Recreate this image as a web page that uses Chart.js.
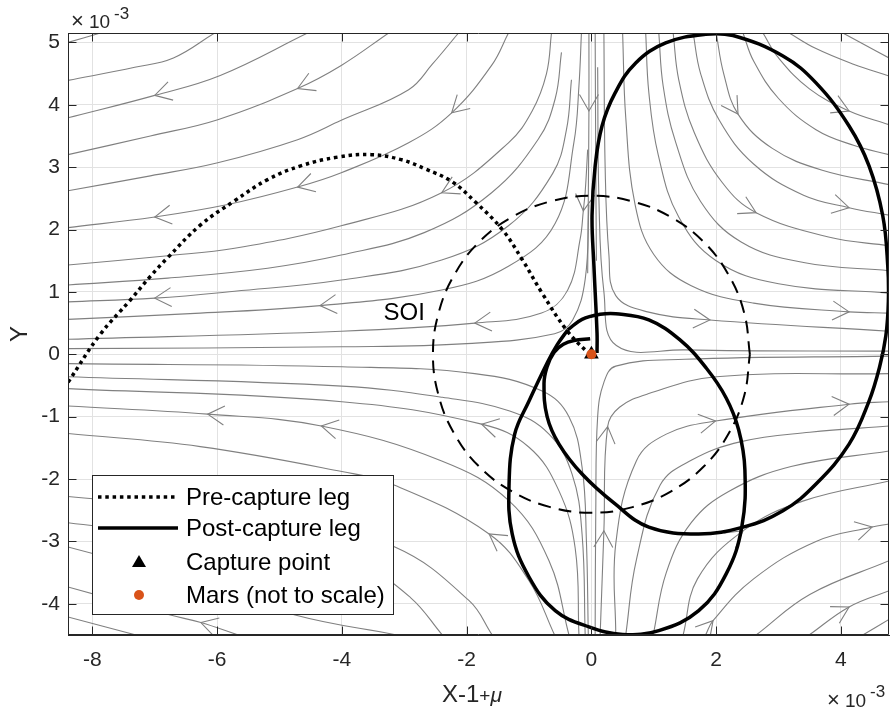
<!DOCTYPE html>
<html><head><meta charset="utf-8">
<script src="https://cdn.jsdelivr.net/npm/chart.js@4.4.0/dist/chart.umd.min.js"></script>
<style>html,body{margin:0;padding:0;background:#fff;}#wrap{width:890px;height:714px;}</style>
</head><body><div id="wrap"><canvas id="c" width="890" height="714"></canvas></div>
<script>
// All coordinates are in units of 1e-3 (axis multiplier shown as ×10^-3)
const xTicks = [-8,-6,-4,-2,0,2,4];
const yTicks = [-4,-3,-2,-1,0,1,2,3,4,5];
const xRange = [-8.39, 4.77];
const yRange = [-4.50, 5.15];

const mars = [[0,0]];
const capturePoint = [[0,0]];

const preCapture = [[-8.39,-0.45],[-7.88,0.31],[-7.39,0.87],[-7.07,1.25],[-6.80,1.54],[-6.27,2.07],[-5.72,2.46],[-5.19,2.80],[-4.66,3.02],[-4.07,3.16],[-3.53,3.20],[-3.05,3.12],[-2.66,2.97],[-2.24,2.77],[-1.86,2.44],[-1.43,2.00],[-1.11,1.52],[-0.79,0.98],[-0.40,0.39],[-0.07,0.04],[0,0]];

const postLoop = [[0.09,0.02],[0.09,0.34],[0.04,1.42],[0.01,2.22],[0.06,3.02],[0.17,3.66],[0.38,4.19],[0.71,4.67],[1.19,4.99],[1.83,5.13],[2.27,5.11],[3.07,4.78],[3.60,4.35],[4.13,3.66],[4.45,3.02],[4.67,2.22],[4.75,1.42],[4.76,0.85],[4.72,0.30],[4.62,-0.20],[4.45,-0.75],[4.13,-1.44],[3.60,-2.08],[3.07,-2.51],[2.43,-2.77],[1.72,-2.88],[0.92,-2.77],[0.38,-2.40],[-0.15,-1.92],[-0.52,-1.44],[-0.71,-1.00],[-0.76,-0.47],[-0.71,-0.20],[-0.60,0.03],[-0.45,0.16],[-0.28,0.22],[-0.02,0.25]];

const postEllipse = [[-0.38,0.39],[-0.15,0.56],[0.14,0.64],[0.39,0.65],[0.92,0.55],[1.42,0.23],[1.84,-0.22],[2.16,-0.70],[2.36,-1.21],[2.46,-1.85],[2.41,-2.77],[2.16,-3.52],[1.72,-4.11],[1.08,-4.43],[0.50,-4.49],[-0.04,-4.37],[-0.58,-4.11],[-1.00,-3.57],[-1.27,-2.88],[-1.32,-2.08],[-1.23,-1.28],[-1.00,-0.75],[-0.70,-0.12],[-0.55,0.15],[-0.38,0.39]];

const soi = [[2.54,0],[2.45,0.66],[2.20,1.27],[1.80,1.80],[1.27,2.20],[0.66,2.45],[0,2.54],[-0.66,2.45],[-1.27,2.20],[-1.80,1.80],[-2.20,1.27],[-2.45,0.66],[-2.54,0],[-2.45,-0.66],[-2.20,-1.27],[-1.80,-1.80],[-1.27,-2.20],[-0.66,-2.45],[0,-2.54],[0.66,-2.45],[1.27,-2.20],[1.80,-1.80],[2.20,-1.27],[2.45,-0.66],[2.54,0]];
const soiLabel = {x:-3.0, y:0.55, text:'SOI'};

// Streamlines, points listed in flow direction
const streamQ2 = [
 [[-7.87,5.15],[-8.39,5.00]],
 [[-6.04,5.15],[-6.70,4.75],[-7.32,4.60],[-8.39,4.39]],
 [[-4.55,5.15],[-5.95,4.47],[-7.00,4.15],[-8.39,3.79]],
 [[-3.25,5.15],[-4.01,4.63],[-4.71,4.26],[-5.99,3.76],[-7.07,3.50],[-8.39,3.20]],
 [[-2.13,5.15],[-2.55,4.65],[-2.93,4.24],[-4.01,3.75],[-4.71,3.44],[-5.99,3.07],[-7.07,2.86],[-8.39,2.62]],
 [[-1.33,5.15],[-1.60,4.63],[-2.24,3.87],[-2.93,3.39],[-4.01,2.91],[-4.71,2.68],[-5.83,2.40],[-7.00,2.20],[-8.39,2.03]],
 [[-0.64,5.15],[-0.72,4.50],[-0.95,3.90],[-1.33,3.39],[-2.40,2.59],[-4.01,2.06],[-5.72,1.70],[-6.79,1.58],[-8.39,1.43]],
 [[-0.48,4.84],[-0.58,4.10],[-0.85,3.45],[-1.60,2.59],[-2.68,1.95],[-4.01,1.59],[-5.19,1.38],[-6.79,1.22],[-8.39,1.11]],
 [[-0.32,4.40],[-0.40,3.60],[-0.62,2.90],[-1.33,2.06],[-2.40,1.51],[-4.01,1.19],[-5.72,1.01],[-7.00,0.90],[-8.39,0.84]],
 [[-0.16,5.15],[-0.20,4.30],[-0.28,3.40],[-0.58,2.10],[-1.33,1.41],[-2.40,1.03],[-4.35,0.78],[-6.27,0.66],[-8.39,0.56]],
 [[-0.06,3.28],[-0.10,2.60],[-0.13,2.30],[-0.18,1.85],[-0.38,1.03],[-0.80,0.66],[-1.87,0.50],[-4.01,0.37],[-8.39,0.24]],
 [[-0.04,2.40],[-0.10,1.20],[-0.30,0.55],[-0.59,0.33],[-2.00,0.17],[-4.00,0.12],[-8.39,0.09]],
 [[-0.04,5.15],[-0.04,3.90],[-0.05,2.50],[-0.06,1.30]]
];
const arrowsQ2 = [[2,2],[3,2],[5,2],[5,5],[5,7],[6,4],[8,7],[9,6],[10,2],[10,6],[12,1]];

const streamQ3 = [
 [[-0.05,-4.50],[-0.08,-3.00],[-0.15,-1.81],[-0.36,-1.00],[-0.79,-0.59],[-1.87,-0.31],[-4.00,-0.20],[-8.39,-0.15]],
 [[-0.10,-4.50],[-0.15,-2.88],[-0.31,-1.92],[-0.68,-1.28],[-1.31,-0.91],[-2.39,-0.69],[-4.00,-0.51],[-8.39,-0.36]],
 [[-0.20,-4.50],[-0.26,-3.11],[-0.52,-2.19],[-1.00,-1.49],[-1.76,-1.12],[-4.00,-0.76],[-8.39,-0.55]],
 [[-0.36,-4.50],[-0.68,-3.31],[-1.32,-2.35],[-2.40,-1.71],[-4.33,-1.15],[-6.15,-0.96],[-8.39,-0.83]],
 [[-0.59,-4.50],[-1.00,-3.63],[-1.64,-2.88],[-3.20,-2.08],[-4.00,-1.88],[-6.27,-1.48],[-8.39,-1.27]],
 [[-1.59,-4.50],[-1.96,-3.95],[-3.15,-3.09],[-5.00,-2.60],[-8.39,-2.28]],
 [[-2.39,-4.50],[-2.90,-3.90],[-3.60,-3.45],[-5.20,-3.10],[-8.39,-2.70]],
 [[-3.12,-4.50],[-4.75,-4.18],[-6.50,-3.60],[-8.39,-3.09]],
 [[-5.66,-4.50],[-6.26,-4.30],[-6.75,-4.18],[-8.39,-3.73]],
 [[-7.30,-4.50],[-8.39,-4.21]]
];
const arrowsQ3 = [[2,4],[3,4],[3,5],[4,2],[8,1]];

const streamQ4 = [
 [[0.06,-4.50],[0.07,-2.50],[0.10,-1.00],[0.20,-0.45],[0.39,-0.19],[1.50,-0.08],[4.77,-0.03]],
 [[0.14,-4.50],[0.20,-2.83],[0.26,-1.16],[0.45,-0.85],[0.92,-0.63],[2.00,-0.36],[4.77,-0.31]],
 [[0.39,-4.50],[0.39,-3.04],[0.72,-1.71],[1.20,-1.28],[1.99,-1.07],[4.13,-0.80],[4.77,-0.76]],
 [[0.55,-4.50],[0.72,-3.30],[1.10,-2.10],[1.60,-1.70],[2.40,-1.40],[3.50,-1.25],[4.77,-1.15]],
 [[0.99,-4.50],[1.20,-3.50],[1.60,-2.70],[2.20,-2.20],[3.20,-1.80],[4.77,-1.55]],
 [[1.47,-4.50],[1.70,-3.60],[2.43,-2.83],[3.40,-2.35],[4.77,-2.03]],
 [[1.83,-4.50],[1.95,-4.27],[2.60,-3.60],[3.60,-3.00],[4.50,-2.77],[4.77,-2.72]],
 [[2.64,-4.50],[3.50,-3.85],[4.77,-3.31]],
 [[3.49,-4.50],[4.13,-4.05],[4.77,-3.79]],
 [[4.35,-4.50],[4.77,-4.25]]
];
const arrowsQ4 = [[1,1],[1,2],[2,4],[2,5],[5,2],[6,1],[6,4],[8,1]];

const streamQ1 = [
 [[4.03,5.15],[4.40,4.95],[4.77,4.75]],
 [[3.17,5.15],[3.60,4.90],[4.20,4.65],[4.77,4.46]],
 [[2.75,5.15],[3.00,4.75],[3.50,4.25],[4.13,3.90],[4.77,3.68]],
 [[2.43,5.15],[2.60,4.70],[3.00,4.10],[3.60,3.60],[4.20,3.35],[4.77,3.20]],
 [[2.00,5.15],[2.12,4.50],[2.35,3.85],[2.90,3.30],[3.70,2.95],[4.77,2.72]],
 [[1.63,5.15],[1.75,4.50],[2.05,3.75],[2.60,3.05],[3.40,2.55],[4.13,2.35],[4.77,2.23]],
 [[1.31,5.15],[1.40,4.40],[1.65,3.55],[2.10,2.75],[2.64,2.27],[3.80,1.88],[4.77,1.74]],
 [[1.08,5.15],[1.15,4.30],[1.35,3.40],[1.75,2.45],[2.40,1.80],[3.40,1.47],[4.77,1.34]],
 [[0.87,5.15],[0.92,4.20],[1.07,3.20],[1.40,2.20],[2.00,1.50],[3.00,1.13],[4.77,0.98]],
 [[0.50,5.15],[0.55,3.80],[0.70,2.40],[1.00,1.60],[1.60,1.10],[2.60,0.82],[4.13,0.68],[4.77,0.66]],
 [[0.20,5.15],[0.22,3.00],[0.28,1.60],[0.39,0.94],[0.90,0.68],[1.90,0.55],[4.77,0.37]],
 [[0.10,4.60],[0.12,2.50],[0.20,1.00],[0.40,0.14],[1.50,0.07],[4.77,0.05]],
 [[0.06,5.15],[0.07,3.00],[0.08,1.50]]
];
const arrowsQ1 = [[2,3],[4,2],[5,5],[6,4],[9,6],[10,5]];

const FONT = '"Liberation Sans", Arial, Helvetica, sans-serif';
const STREAM = '#808080';
const INK = '#262626';

const groups = [[streamQ1,arrowsQ1],[streamQ2,arrowsQ2],[streamQ3,arrowsQ3],[streamQ4,arrowsQ4]];
const toXY = a => a.map(p => ({x:p[0], y:p[1]}));

const streamSets = [];
groups.forEach(([lines]) => lines.forEach(l => streamSets.push({
  data: toXY(l), showLine:true, borderColor:STREAM, borderWidth:1.1, pointRadius:0, tension:0.4, fill:false
})));

const datasets = [
  {label:'Mars (not to scale)', data:toXY(mars), showLine:false, pointStyle:'circle', pointRadius:5, backgroundColor:'#D95319', borderColor:'#D95319', borderWidth:0},
  {label:'Capture point', data:toXY(capturePoint), showLine:false, pointStyle:'triangle', pointRadius:8.5, backgroundColor:'#000', borderColor:'#000', borderWidth:0},
  {label:'Post-capture leg', data:toXY(postLoop), showLine:true, borderColor:'#000', borderWidth:3.5, pointRadius:0, tension:0.4},
  {label:'', data:toXY(postEllipse), showLine:true, borderColor:'#000', borderWidth:3.5, pointRadius:0, tension:0.4},
  {label:'Pre-capture leg', data:toXY(preCapture), showLine:true, borderColor:'#000', borderWidth:3.5, borderDash:[3.5,3.8], pointRadius:0, tension:0.4},
  {label:'SOI', data:toXY(soi), showLine:true, borderColor:'#000', borderWidth:2, borderDash:[13,8], pointRadius:0, tension:0.4},
  ...streamSets
];

const legendItems = [
  {text:'Pre-capture leg', kind:'dotted'},
  {text:'Post-capture leg', kind:'solid'},
  {text:'Capture point', kind:'triangle'},
  {text:'Mars (not to scale)', kind:'dot'}
];

const decor = {
  id:'decor',
  beforeDatasetsDraw(chart){
    const {ctx, chartArea:a, scales:{x, y}} = chart;
    ctx.save();
    ctx.beginPath(); ctx.rect(a.left, a.top, a.right-a.left, a.bottom-a.top); ctx.clip();
    ctx.strokeStyle = STREAM; ctx.lineWidth = 1.1;
    groups.forEach(([lines, arrows]) => arrows.forEach(([li, vi]) => {
      const line = lines[li];
      const p = line[vi], pa = line[Math.max(0, vi-1)], pb = line[Math.min(line.length-1, vi+1)];
      const px = x.getPixelForValue(p[0]), py = y.getPixelForValue(p[1]);
      const dx = x.getPixelForValue(pb[0]) - x.getPixelForValue(pa[0]);
      const dy = y.getPixelForValue(pb[1]) - y.getPixelForValue(pa[1]);
      const ang = Math.atan2(dy, dx), L = 19, h = Math.PI/6;
      ctx.beginPath();
      ctx.moveTo(px - L*Math.cos(ang-h), py - L*Math.sin(ang-h));
      ctx.lineTo(px, py);
      ctx.lineTo(px - L*Math.cos(ang+h), py - L*Math.sin(ang+h));
      ctx.stroke();
    }));
    ctx.restore();
  },
  afterDraw(chart){
    const {ctx, chartArea:a, scales:{x, y}} = chart;
    ctx.save();
    ctx.fillStyle = '#000';
    ctx.font = '24px ' + FONT;
    ctx.textAlign = 'center'; ctx.textBaseline = 'alphabetic';
    ctx.fillText(soiLabel.text, x.getPixelForValue(soiLabel.x), y.getPixelForValue(soiLabel.y));
    ctx.strokeStyle = INK; ctx.lineWidth = 1;
    const L = Math.round(a.left)+0.5, R = Math.round(a.right)-0.5, T = Math.round(a.top)+0.5, B = Math.round(a.bottom)-0.5;
    ctx.beginPath(); ctx.rect(L, T, R-L, B-T); ctx.stroke();
    ctx.beginPath();
    xTicks.forEach(v => { const px = Math.round(x.getPixelForValue(v))+0.5; ctx.moveTo(px, B); ctx.lineTo(px, B-8); ctx.moveTo(px, T); ctx.lineTo(px, T+8); });
    yTicks.forEach(v => { const py = Math.round(y.getPixelForValue(v))+0.5; ctx.moveTo(L, py); ctx.lineTo(L+8, py); ctx.moveTo(R, py); ctx.lineTo(R-8, py); });
    ctx.stroke();
    // exponent labels
    ctx.fillStyle = INK; ctx.textAlign = 'left';
    ctx.font = '22px ' + FONT; ctx.fillText('\u00d7', 71, 28);
    ctx.font = '19px ' + FONT; ctx.fillText('10', 89, 28);
    ctx.font = '17px ' + FONT; ctx.fillText('-3', 114, 19);
    ctx.font = '22px ' + FONT; ctx.fillText('\u00d7', 827, 707);
    ctx.font = '19px ' + FONT; ctx.fillText('10', 845, 707);
    ctx.font = '17px ' + FONT; ctx.fillText('-3', 870, 697);
    // x title
    const t1 = 'X-1', t2 = '+';
    ctx.font = '24px ' + FONT; const w1 = ctx.measureText(t1).width;
    ctx.font = '19px ' + FONT; const w2 = ctx.measureText(t2).width;
    ctx.font = 'italic 21px ' + FONT; const w3 = ctx.measureText('\u03bc').width;
    let sx = 472 - (w1+w2+w3)/2;
    ctx.font = '24px ' + FONT; ctx.fillText(t1, sx, 702); sx += w1;
    ctx.font = '19px ' + FONT; ctx.fillText(t2, sx, 702); sx += w2;
    ctx.font = 'italic 21px ' + FONT; ctx.fillText('\u03bc', sx, 702);
    // y title
    ctx.save(); ctx.translate(27, 334); ctx.rotate(-Math.PI/2);
    ctx.font = '24px ' + FONT; ctx.textAlign = 'center'; ctx.fillText('Y', 0, 0); ctx.restore();
    // legend
    const bx = 92, by = 475, bw = 301, bh = 139;
    ctx.fillStyle = '#fff'; ctx.fillRect(bx, by, bw, bh);
    ctx.strokeStyle = INK; ctx.lineWidth = 1; ctx.strokeRect(bx+0.5, by+0.5, bw, bh);
    const rows = [497, 528, 562, 595];
    legendItems.forEach((it, i) => {
      const ry = rows[i];
      ctx.strokeStyle = '#000'; ctx.fillStyle = '#000';
      if (it.kind === 'dotted' || it.kind === 'solid') {
        ctx.lineWidth = 3.5; ctx.setLineDash(it.kind === 'dotted' ? [3.5,3.8] : []);
        ctx.beginPath(); ctx.moveTo(98, ry); ctx.lineTo(178, ry); ctx.stroke(); ctx.setLineDash([]);
      } else if (it.kind === 'triangle') {
        ctx.beginPath(); ctx.moveTo(139, ry-7); ctx.lineTo(146, ry+5); ctx.lineTo(132, ry+5); ctx.closePath(); ctx.fill();
      } else {
        ctx.fillStyle = '#D95319'; ctx.beginPath(); ctx.arc(139, ry, 5, 0, Math.PI*2); ctx.fill();
      }
      ctx.fillStyle = '#000'; ctx.font = '24px ' + FONT; ctx.textBaseline = 'middle'; ctx.textAlign = 'left';
      ctx.fillText(it.text, 186, ry+1);
    });
    ctx.restore();
  }
};

new Chart(document.getElementById('c'), {
  type:'scatter',
  data:{datasets},
  options:{
    responsive:false, animation:false, devicePixelRatio:1,
    layout:{autoPadding:false, padding:{left:0, right:1, top:33, bottom:0}},
    plugins:{legend:{display:false}, tooltip:{enabled:false}},
    scales:{
      x:{type:'linear', min:xRange[0], max:xRange[1],
         afterBuildTicks:s => { s.ticks = xTicks.map(v => ({value:v})); },
         afterFit:s => { s.height = 79; s.paddingLeft = 0; s.paddingRight = 0; },
         grid:{color:'#e2e2e2', drawTicks:false}, border:{color:INK, width:1},
         ticks:{font:{family:FONT, size:21}, color:INK, padding:13, maxRotation:0, autoSkip:false, callback:v => String(v)}},
      y:{type:'linear', min:yRange[0], max:yRange[1],
         afterBuildTicks:s => { s.ticks = yTicks.map(v => ({value:v})); },
         afterFit:s => { s.width = 68; s.paddingTop = 0; s.paddingBottom = 0; },
         grid:{color:'#e2e2e2', drawTicks:false}, border:{color:INK, width:1},
         ticks:{font:{family:FONT, size:21}, color:INK, padding:8, autoSkip:false, callback:v => String(v)}}
    }
  },
  plugins:[decor]
});
</script></body></html>
